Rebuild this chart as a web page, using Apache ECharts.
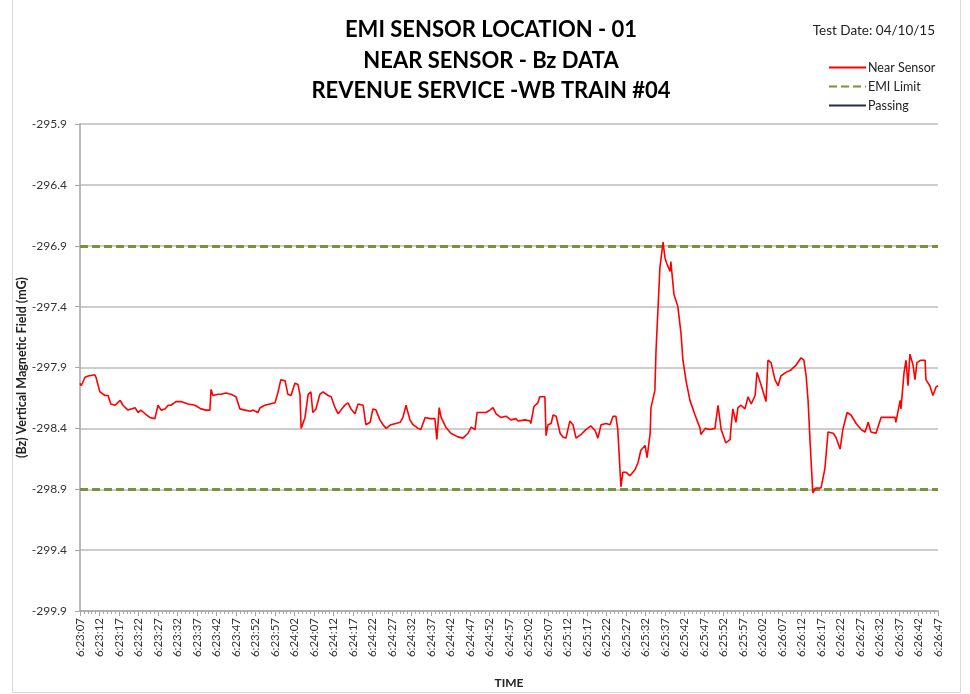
<!DOCTYPE html>
<html>
<head>
<meta charset="utf-8">
<script src="https://cdn.jsdelivr.net/npm/echarts@6/dist/echarts.min.js"></script>
<style>
html,body{margin:0;padding:0;background:#fff;}
#chart{width:970px;height:694px;}
</style>
</head>
<body>
<div id="chart"></div>
<script>
// ---- data ----
const timeLabels = ["6:23:07","6:23:12","6:23:17","6:23:22","6:23:27","6:23:32","6:23:37","6:23:42","6:23:47","6:23:52","6:23:57","6:24:02","6:24:07","6:24:12","6:24:17","6:24:22","6:24:27","6:24:32","6:24:37","6:24:42","6:24:47","6:24:52","6:24:57","6:25:02","6:25:07","6:25:12","6:25:17","6:25:22","6:25:27","6:25:32","6:25:37","6:25:42","6:25:47","6:25:52","6:25:57","6:26:02","6:26:07","6:26:12","6:26:17","6:26:22","6:26:27","6:26:32","6:26:37","6:26:42","6:26:47"];
const yTicks = [-299.9,-299.4,-298.9,-298.4,-297.9,-297.4,-296.9,-296.4,-295.9];
// seconds elapsed since 6:23:07
const timeSec = [0,0.3,1.3,2.1,3.8,4.1,5.1,6.4,7.2,7.9,9.0,10.3,11.0,12.3,13.1,14.1,14.9,15.6,16.7,17.9,19.2,20.0,20.8,21.8,22.6,23.3,24.6,25.9,27.7,29.5,31.0,32.3,33.3,33.6,34.1,35.4,36.2,37.4,38.7,40.0,41.0,42.3,43.6,44.4,45.6,46.2,47.4,48.7,50.0,50.8,51.5,52.6,53.3,54.1,55.1,55.9,
56.4,56.7,57.7,58.5,59.2,59.7,60.5,61.5,62.3,63.6,64.4,65.4,66.2,66.9,67.9,68.7,69.5,70.5,71.3,72.6,73.3,74.4,75.1,75.9,76.9,77.7,78.5,79.7,81.0,82.1,82.8,83.6,84.6,85.4,86.7,87.4,88.5,89.7,91.0,91.5,92.1,92.6,93.8,95.1,96.9,98.2,99.5,100.3,101.3,101.8,102.8,104.1,105.1,105.9,106.7,107.9,109.2,110.5,111.8,
112.3,114.1,115.4,115.6,116.4,117.4,117.9,119.2,119.5,120.0,120.8,121.3,122.1,123.1,123.8,124.6,125.6,126.4,127.2,128.5,129.7,131.0,132.1,132.8,133.6,134.9,135.9,136.7,137.4,137.9,138.7,139.2,140.0,141.0,142.3,143.1,143.8,144.9,145.4,146.2,146.4,147.4,147.7,148.7,149.5,150.0,150.5,151.3,151.5,152.3,152.8,153.3,154.1,154.6,155.4,156.4,157.7,159.0,159.2,160.3,161.5,162.8,163.6,164.4,165.6,166.7,
166.9,167.4,168.2,168.7,169.5,170.5,171.3,172.1,173.1,173.6,174.6,175.9,176.4,177.2,178.2,179.0,179.7,181.0,182.3,183.6,184.9,185.6,186.2,186.7,187.2,187.9,188.7,190.0,191.0,191.8,193.1,193.8,194.9,195.6,196.7,197.7,199.0,200.3,201.3,202.1,202.8,204.1,205.4,207.2,209.0,209.2,210.3,210.5,211.3,211.8,212.3,212.8,213.6,214.1,214.6,215.6,216.7,216.9,217.9,218.7,219.5,220.0];
const bzNear = [-298.03,-298.05,-297.98,-297.97,-297.96,-297.98,-298.10,-298.13,-298.13,-298.20,-298.21,-298.17,-298.21,-298.25,-298.24,-298.23,-298.27,-298.25,-298.28,-298.31,-298.32,-298.21,-298.25,-298.24,-298.21,-298.21,-298.18,-298.18,-298.20,-298.21,-298.24,-298.25,-298.25,-298.08,-298.13,-298.12,-298.12,-298.11,-298.12,-298.14,-298.24,-298.25,-298.26,-298.25,-298.27,-298.23,-298.21,-298.20,-298.19,-298.10,-298.00,-298.01,-298.12,-298.13,-298.03,-298.04,
-298.12,-298.40,-298.31,-298.12,-298.10,-298.27,-298.24,-298.12,-298.10,-298.13,-298.14,-298.23,-298.28,-298.25,-298.21,-298.19,-298.24,-298.28,-298.20,-298.21,-298.37,-298.35,-298.24,-298.25,-298.33,-298.37,-298.40,-298.37,-298.36,-298.35,-298.31,-298.21,-298.33,-298.37,-298.40,-298.41,-298.31,-298.32,-298.32,-298.49,-298.23,-298.31,-298.39,-298.44,-298.47,-298.48,-298.44,-298.39,-298.41,-298.27,-298.27,-298.27,-298.25,-298.23,-298.28,-298.31,-298.30,-298.33,-298.32,
-298.34,-298.33,-298.34,-298.36,-298.22,-298.19,-298.14,-298.14,-298.46,-298.37,-298.36,-298.29,-298.30,-298.44,-298.47,-298.48,-298.34,-298.37,-298.48,-298.45,-298.41,-298.38,-298.42,-298.48,-298.37,-298.36,-298.37,-298.30,-298.30,-298.41,-298.88,-298.76,-298.76,-298.79,-298.74,-298.68,-298.58,-298.54,-298.64,-298.44,-298.23,-298.09,-297.76,-297.08,-296.87,-297.00,-297.05,-297.11,-297.03,-297.30,-297.31,-297.40,-297.62,-297.84,-298.01,-298.17,-298.29,-298.40,-298.45,-298.40,-298.41,-298.40,-298.21,-298.41,-298.52,-298.49,
-298.40,-298.24,-298.35,-298.23,-298.21,-298.24,-298.14,-298.20,-298.13,-297.94,-298.04,-298.18,-297.84,-297.86,-298.00,-298.05,-297.97,-297.94,-297.92,-297.88,-297.82,-297.84,-297.97,-298.18,-298.51,-298.93,-298.89,-298.89,-298.73,-298.43,-298.44,-298.47,-298.57,-298.41,-298.27,-298.29,-298.36,-298.41,-298.43,-298.35,-298.43,-298.44,-298.31,-298.31,-298.31,-298.35,-298.17,-298.24,-297.94,-297.84,-298.05,-297.79,-297.88,-298.00,-297.86,-297.84,-297.84,-298.00,-298.05,-298.13,-298.06,-298.05];
const emiUpper = -296.9;
const emiLower = -298.9;

const FONT = 'Lato, "Liberation Sans", sans-serif';
const chart = echarts.init(document.getElementById('chart'), null, {renderer: 'canvas'});
const nearData = timeSec.map((t, i) => [t, bzNear[i]]);

chart.setOption({
  animation: false,
  backgroundColor: '#ffffff',
  textStyle: {fontFamily: FONT},
  graphic: [{
    type: 'rect', silent: true, z: -10,
    shape: {x: 12.5, y: -2, width: 948, height: 694.5},
    style: {fill: 'none', stroke: '#d9d9d9', lineWidth: 1}
  }],
  title: [{
    text: 'EMI SENSOR LOCATION - 01\nNEAR SENSOR - Bz DATA\nREVENUE SERVICE -WB TRAIN #04',
    left: 486, top: 10, textAlign: 'center',
    textStyle: {fontFamily: FONT, fontSize: 22, fontWeight: 'bold', color: '#000', lineHeight: 30.5}
  }, {
    text: 'Test Date: 04/10/15',
    right: 30, top: 19,
    textStyle: {fontFamily: FONT, fontSize: 13.5, fontWeight: 'normal', color: '#222'}
  }],
  legend: {
    orient: 'vertical', left: 823, top: 56,
    itemWidth: 37, itemHeight: 12, itemGap: 6,
    itemStyle: {opacity: 0},
    textStyle: {fontFamily: FONT, fontSize: 12.5, color: '#222', padding: [0, 0, 0, -3]},
    data: ['Near Sensor', 'EMI Limit', 'Passing']
  },
  grid: {left: 80, right: 32, top: 124, bottom: 78, containLabel: false},
  xAxis: {
    type: 'value', min: 0, max: 220, interval: 5,
    name: 'TIME', nameLocation: 'middle', nameGap: 66,
    nameTextStyle: {fontFamily: FONT, fontSize: 12, fontWeight: 'bold', color: '#222'},
    axisLine: {show: true, lineStyle: {color: '#a6a6a6', width: 1.5}},
    axisTick: {show: true, length: 5, lineStyle: {color: '#a6a6a6'}},
    minorTick: {show: true, splitNumber: 5, length: 3, lineStyle: {color: '#a6a6a6'}},
    splitLine: {show: false},
    axisLabel: {
      rotate: 90, margin: 7, fontFamily: FONT, fontSize: 11.5, color: '#333',
      formatter: v => timeLabels[Math.round(v / 5)] || ''
    }
  },
  yAxis: {
    type: 'value', min: yTicks[0], max: yTicks[yTicks.length - 1], interval: 0.5,
    name: '(Bz) Vertical Magnetic Field (mG)', nameLocation: 'middle', nameGap: 52, nameRotate: 90,
    nameMoveOverlap: false,
    nameTextStyle: {fontFamily: FONT, fontSize: 12.5, fontWeight: 'bold', color: '#222'},
    axisLine: {show: true, lineStyle: {color: '#a6a6a6', width: 1.5}},
    axisTick: {show: true, length: 5, lineStyle: {color: '#a6a6a6'}},
    splitLine: {show: true, lineStyle: {color: '#bdbdbd', width: 1.5}},
    axisLabel: {
      margin: 13, fontFamily: FONT, fontSize: 12, color: '#333',
      formatter: v => v.toFixed(1)
    }
  },
  series: [{
    name: 'Near Sensor', type: 'line', data: nearData,
    symbol: 'none', z: 5,
    lineStyle: {color: '#ff0000', width: 1.6},
    itemStyle: {color: '#ff0000'}
  }, {
    name: 'EMI Limit', type: 'line', data: [],
    symbol: 'none', z: 3,
    lineStyle: {color: '#77933c', width: 3, type: [8, 4]},
    itemStyle: {color: '#77933c'},
    markLine: {
      silent: true, symbol: 'none', label: {show: false}, z: 3,
      lineStyle: {color: '#77933c', width: 3, type: [8, 4]},
      data: [{yAxis: emiUpper}, {yAxis: emiLower}]
    }
  }, {
    name: 'Passing', type: 'line', data: [],
    symbol: 'none',
    lineStyle: {color: '#1f2d4f', width: 2},
    itemStyle: {color: '#1f2d4f'}
  }]
});
</script>
</body>
</html>
